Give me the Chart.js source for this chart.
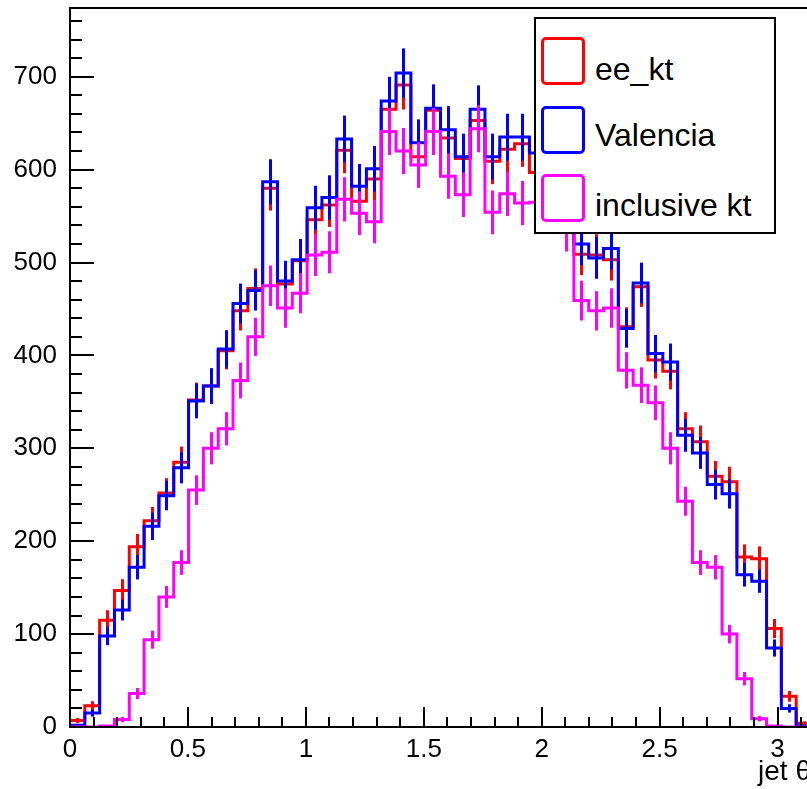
<!DOCTYPE html>
<html>
<head>
<meta charset="utf-8">
<script src="https://cdn.jsdelivr.net/npm/chart.js@4.4.1/dist/chart.umd.min.js"></script>
<style>
  html, body { margin: 0; padding: 0; background: #fff; overflow: hidden; }
  #wrap { position: absolute; left: 0; top: 0; width: 811px; height: 789px; }
  #legend {
    position: absolute; left: 534px; top: 17px; width: 242px; height: 217px;
    border: 2px solid #000; background: #fff; box-sizing: border-box; z-index: 2;
    font-family: "Liberation Sans", Arial, sans-serif; font-size: 32px; color: #000;
  }
  #legend .box {
    position: absolute; left: 5px; width: 44px; height: 48px;
    border: 3px solid; border-radius: 5px; box-sizing: border-box;
  }
  #legend .lbl { position: absolute; left: 59px; height: 40px; line-height: 40px; white-space: nowrap; }
</style>
</head>
<body>
<div id="wrap"><canvas id="thetaChart"></canvas></div>

<div id="legend">
  <div class="box" style="top:18px; border-color:#ff0000"></div>
  <div class="lbl" style="top:30px">ee_kt</div>
  <div class="box" style="top:87px; border-color:#0000ff"></div>
  <div class="lbl" style="top:96px">Valencia</div>
  <div class="box" style="top:155px; border-color:#ff00ff"></div>
  <div class="lbl" style="top:166px">inclusive kt</div>
</div>

<script>

// ─────────────────────────────────────
// DATA  (50 bins from 0 to pi)
// ─────────────────────────────────────

const binCount = 50;
const xMax = Math.PI;
const yMax = 774;

const eeKt = [
    7, 23, 115, 147, 194, 222, 252, 285, 352, 367,
    405, 448, 472, 580, 477, 502, 546, 562, 621, 566,
    590, 665, 691, 614, 664, 634, 612, 653, 609, 622,
    628, 597, 600, 570, 509, 508, 503, 431, 474, 395,
    383, 321, 307, 270, 264, 183, 181, 106, 33, 4
];

const valencia = [
    2, 15, 98, 126, 172, 216, 249, 279, 351, 367,
    407, 456, 470, 587, 480, 503, 559, 570, 633, 582,
    601, 674, 704, 629, 666, 643, 614, 665, 614, 635,
    635, 618, 595, 575, 520, 505, 515, 429, 478, 402,
    393, 314, 295, 261, 251, 164, 157, 85, 20, 1
];

const inclusiveKt = [
    0, 0, 1, 8, 36, 94, 140, 177, 255, 300,
    321, 373, 420, 475, 451, 467, 508, 511, 568, 553,
    544, 641, 620, 605, 641, 593, 573, 644, 554, 574,
    564, 565, 560, 535, 459, 448, 451, 384, 368, 349,
    300, 243, 177, 172, 100, 52, 9, 1, 0, 0
];

const xTicks = [0, 0.5, 1, 1.5, 2, 2.5, 3];
const yTicks = [0, 100, 200, 300, 400, 500, 600, 700];

const binWidth = xMax / binCount;
const fontFamily = '"Liberation Sans", Arial, sans-serif';


// step points on the left bin edges, plus the closing edge
function toSteps(values) {
    const pts = values.map((v, i) => ({ x: i * binWidth, y: v }));
    pts.push({ x: xMax, y: values[values.length - 1] });
    return pts;
}


// ─────────────────────────────────────
// ERROR BARS (sqrt N, drawn with each dataset)
// ─────────────────────────────────────

const errorBars = {
    id: 'errorBars',
    afterDatasetDraw(chart, args) {
        const ds = chart.data.datasets[args.index];
        const xs = chart.scales.x;
        const ys = chart.scales.y;
        const area = chart.chartArea;
        const ctx = chart.ctx;

        ctx.save();
        ctx.beginPath();
        ctx.rect(area.left, area.top, area.right - area.left, area.bottom - area.top);
        ctx.clip();
        ctx.strokeStyle = ds.borderColor;
        ctx.lineWidth = 3;

        ds.counts.forEach((v, i) => {
            if (v <= 0) return;
            const err = Math.sqrt(v);
            const px = Math.round(xs.getPixelForValue((i + 0.5) * binWidth)) + 0.5;
            ctx.beginPath();
            ctx.moveTo(px, ys.getPixelForValue(v - err));
            ctx.lineTo(px, ys.getPixelForValue(v + err));
            ctx.stroke();
        });
        ctx.restore();
    }
};


// ─────────────────────────────────────
// FRAME + INSIDE TICKS
// ─────────────────────────────────────

const frameTicks = {
    id: 'frameTicks',
    afterDatasetsDraw(chart) {
        const xs = chart.scales.x;
        const ys = chart.scales.y;
        const a = chart.chartArea;
        const ctx = chart.ctx;

        ctx.save();
        ctx.strokeStyle = '#000';
        ctx.lineWidth = 2;
        ctx.strokeRect(a.left, a.top, a.right - a.left, a.bottom - a.top);

        ctx.beginPath();
        for (let k = 0; k * 20 <= yMax; k++) {
            const py = Math.round(ys.getPixelForValue(k * 20));
            const len = k % 5 === 0 ? 24 : 12;
            ctx.moveTo(a.left, py);
            ctx.lineTo(a.left + len, py);
        }
        for (let k = 0; k * 0.1 <= xMax; k++) {
            const px = Math.round(xs.getPixelForValue(k * 0.1));
            const len = k % 5 === 0 ? 20 : 10;
            ctx.moveTo(px, a.bottom);
            ctx.lineTo(px, a.bottom - len);
        }
        ctx.stroke();
        ctx.restore();
    }
};


// ─────────────────────────────────────
// CHART
// ─────────────────────────────────────

function histSet(label, values, color, order) {
    return {
        label: label,
        data: toSteps(values),
        counts: values,
        borderColor: color,
        borderWidth: 3,
        backgroundColor: color,
        pointRadius: 0,
        stepped: 'before',
        fill: false,
        order: order
    };
}

// no label overhang padding: the frame is placed by hand
function noPad(s) {
    s.paddingTop = 0;
    s.paddingBottom = 0;
    s.paddingLeft = 0;
    s.paddingRight = 0;
}

new Chart(document.getElementById('thetaChart'), {

    type: 'line',

    data: {
        datasets: [
            histSet('ee_kt', eeKt, '#ff0000', 3),
            histSet('Valencia', valencia, '#0000ff', 2),
            histSet('inclusive kt', inclusiveKt, '#ff00ff', 1)
        ]
    },

    plugins: [errorBars, frameTicks],

    options: {
        responsive: true,
        maintainAspectRatio: false,
        animation: false,
        layout: { padding: { top: 8, left: 0, right: 0, bottom: 0 } },

        plugins: {
            legend: { display: false },
            tooltip: { enabled: false }
        },

        scales: {
            x: {
                type: 'linear',
                min: 0,
                max: xMax,
                grid: { display: false, drawTicks: false },
                border: { display: false },
                afterBuildTicks: s => { s.ticks = xTicks.map(v => ({ value: v })); },
                afterFit: s => { s.height = 62; noPad(s); },
                ticks: {
                    autoSkip: false,
                    maxRotation: 0,
                    padding: 7,
                    color: '#000',
                    font: { family: fontFamily, size: 26 },
                    callback: v => String(v)
                },
                title: {
                    display: true,
                    text: 'jet θ',
                    align: 'end',
                    color: '#000',
                    font: { family: fontFamily, size: 28 },
                    padding: { top: 0, bottom: 0 }
                }
            },
            y: {
                min: 0,
                max: yMax,
                grid: { display: false, drawTicks: false },
                border: { display: false },
                afterBuildTicks: s => { s.ticks = yTicks.map(v => ({ value: v })); },
                afterFit: s => { s.width = 70; noPad(s); },
                ticks: {
                    padding: 13,
                    color: '#000',
                    font: { family: fontFamily, size: 26 },
                    callback: v => String(v)
                }
            }
        }
    }
});

</script>
</body>
</html>
